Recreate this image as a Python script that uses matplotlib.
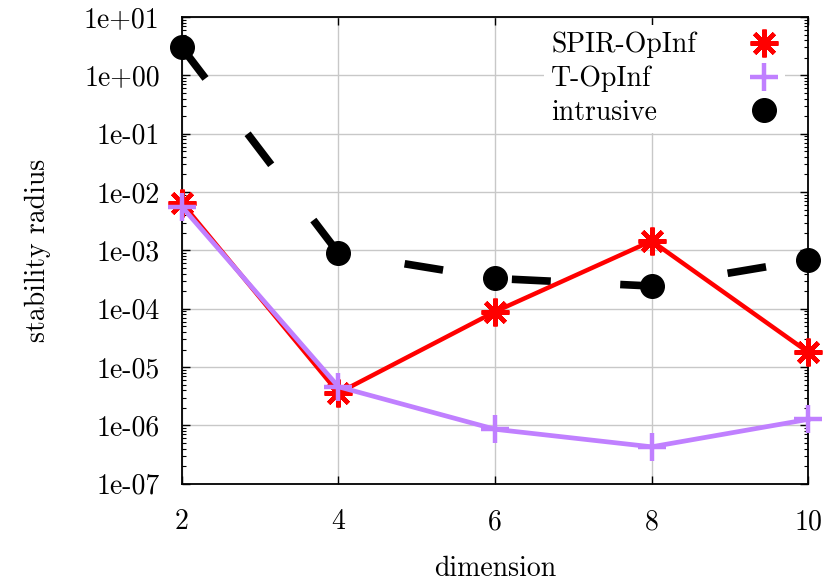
import matplotlib
matplotlib.use("Agg")
from matplotlib import pyplot as plt
from matplotlib.lines import Line2D
from matplotlib.ticker import FixedLocator, FuncFormatter, LogLocator, NullFormatter

plt.rcParams['font.family'] = 'serif'
plt.rcParams['font.serif'] = ['cmr10']
plt.rcParams['mathtext.fontset'] = 'cm'
plt.rcParams['axes.unicode_minus'] = False

dims = [2, 4, 6, 8, 10]
spir = [6.5e-3, 3.6e-6, 8.9e-5, 1.45e-3, 1.8e-5]
topinf = [5.6e-3, 4.6e-6, 8.6e-7, 4.3e-7, 1.27e-6]
intrusive = [3.0e0, 9.0e-4, 3.3e-4, 2.45e-4, 6.9e-4]
labels = ["SPIR-OpInf", "T-OpInf", "intrusive"]

red = "#ff0000"
purple = "#c080ff"
asterisk = (8, 2, 0)
fs = 20

fig = plt.figure(figsize=(8.23, 5.85), dpi=100)
ax1 = fig.add_axes([0.221, 0.173, 0.761, 0.798])
ax1.set_yscale("log")

ax1.plot(dims, intrusive, color="black", linewidth=5.5, linestyle=(0, (5.1, 9.1)),
         marker="o", markersize=17, clip_on=False, zorder=3, dash_capstyle="butt")
ax1.plot(dims, spir, color=red, linewidth=3.2, marker=asterisk, markersize=20,
         markeredgewidth=3.2, clip_on=False, zorder=4)
ax1.plot(dims, topinf, color=purple, linewidth=3.4, marker="+", markersize=20,
         markeredgewidth=3.2, clip_on=False, zorder=5)

ax1.set_xlim(2, 10)
ax1.set_ylim(1e-7, 1e1)
ax1.set_xticks(dims)
ax1.yaxis.set_major_locator(FixedLocator([10.0 ** k for k in range(-7, 2)]))
ax1.yaxis.set_major_formatter(FuncFormatter(lambda v, p: f"{v:.0e}"))
ax1.yaxis.set_minor_locator(LogLocator(base=10, subs=range(2, 10), numticks=20))
ax1.yaxis.set_minor_formatter(NullFormatter())

ax1.grid(True, which="major", color="#c8c8c8", linewidth=1.0)
ax1.set_axisbelow(True)
ax1.tick_params(which="major", direction="in", length=6, width=1.0, labelsize=fs,
                top=True, right=True)
ax1.tick_params(which="minor", direction="in", length=3, width=0.8, right=True)
ax1.tick_params(axis="x", pad=18)
ax1.tick_params(axis="y", pad=16)
for s in ax1.spines.values():
    s.set_linewidth(1.3)

ax1.set_xlabel("dimension", fontsize=fs, labelpad=15)
ax1.set_ylabel("stability radius", fontsize=fs, labelpad=24)

handles = [
    Line2D([], [], color=red, linestyle="none", marker=asterisk, markersize=20, markeredgewidth=3.2),
    Line2D([], [], color=purple, linestyle="none", marker="+", markersize=20, markeredgewidth=3.2),
    Line2D([], [], color="black", linestyle="none", marker="o", markersize=17),
]
leg = ax1.legend(handles, labels, loc="upper right", bbox_to_anchor=(0.985, 1.013),
                 markerfirst=False, frameon=True, fontsize=fs, handlelength=1.0,
                 handletextpad=1.95, labelspacing=0.27, borderpad=0.25, fancybox=False)
leg.get_frame().set_edgecolor("none")
leg.get_frame().set_facecolor("white")
leg.get_frame().set_alpha(1.0)

# gnuplot-style key: labels left-aligned, symbols in one column on the right
fig.canvas.draw()
renderer = fig.canvas.get_renderer()
texts = leg.get_texts()
widths = [t.get_window_extent(renderer).width * 72.0 / fig.dpi for t in texts]
wmax = max(widths)
for col in leg._legend_handle_box.get_children():
    col.align = "left"
    for row, w in zip(col.get_children(), widths):
        row.sep = leg.handletextpad * fs + (wmax - w)

fig.savefig("out.png", dpi=100)
